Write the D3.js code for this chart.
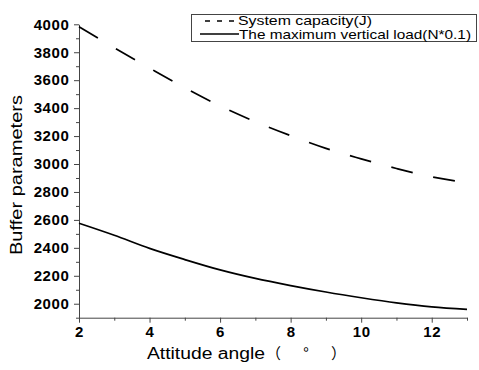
<!DOCTYPE html>
<html>
<head>
<meta charset="utf-8">
<script src="https://cdn.jsdelivr.net/npm/d3@7"></script>
<style>
  html, body { margin: 0; padding: 0; background: #fff; }
  svg text { font-family: Arial, "Liberation Sans", "Noto Sans CJK SC", sans-serif; fill: #000; }
</style>
</head>
<body>
<svg id="chart" width="479" height="370"></svg>
<script>
const angles = [2, 3, 4, 5, 6, 7, 8, 9, 10, 11, 12, 13];
const systemCapacity = [3983, 3832, 3687, 3546, 3416, 3303, 3203, 3112, 3037, 2968, 2908, 2867];
const maxVerticalLoad = [2576, 2490, 2396, 2316, 2242, 2181, 2130, 2084, 2043, 2006, 1977, 1959];
const xMajorTicks = [2, 4, 6, 8, 10, 12];
const xMinorTicks = [3, 5, 7, 9, 11, 13];
const yMajorTicks = [2000, 2200, 2400, 2600, 2800, 3000, 3200, 3400, 3600, 3800, 4000];
const yMinorTicks = [1900, 2100, 2300, 2500, 2700, 2900, 3100, 3300, 3500, 3700, 3900];
const seriesNames = ["System capacity(J)", "The maximum vertical load(N*0.1)"];
const xTitleMain = "Attitude angle";
const xTitleUnit = "（°）";
const yTitle = "Buffer parameters";

const svg = d3.select("#chart");
const x = d3.scaleLinear().domain([2, 13]).range([79, 467]);
const y = d3.scaleLinear().domain([1900, 4000]).range([317.7, 24.3]);
const axisColor = "#444";

// Minor ticks
const gxMinor = svg.append("g").attr("transform", "translate(0,317.7)")
  .call(d3.axisBottom(x).tickValues(xMinorTicks).tickSize(3).tickFormat(""));
const gyMinor = svg.append("g").attr("transform", "translate(79,0)")
  .call(d3.axisLeft(y).tickValues(yMinorTicks).tickSize(3).tickFormat(""));
[gxMinor, gyMinor].forEach(g => { g.select(".domain").remove(); g.selectAll("line").attr("stroke", axisColor); });

// Major axes
const gx = svg.append("g").attr("transform", "translate(0,317.7)")
  .call(d3.axisBottom(x).tickValues(xMajorTicks).tickSize(5).tickSizeOuter(0).tickPadding(4).tickFormat(d3.format("d")));
const gy = svg.append("g").attr("transform", "translate(79,0)")
  .call(d3.axisLeft(y).tickValues(yMajorTicks).tickSize(5).tickSizeOuter(0).tickPadding(4).tickFormat(d3.format("d")));
[gx, gy].forEach(g => {
  g.select(".domain").attr("stroke", axisColor).attr("stroke-width", 1);
  g.selectAll("line").attr("stroke", axisColor);
  g.selectAll("text").attr("font-size", 15).attr("font-weight", "bold")
    .attr("letter-spacing", "0.6px")
    .attr("font-family", "Arial, 'Liberation Sans', sans-serif").attr("fill", "#111");
});
gy.selectAll("text").attr("dx", "-0.6px");

// Lines
const line = d3.line().x((d, i) => x(angles[i])).y(d => y(d)).curve(d3.curveMonotoneX);
svg.append("path").datum(systemCapacity).attr("d", line)
  .attr("fill", "none").attr("stroke", "#000").attr("stroke-width", 1.7)
  .attr("stroke-dasharray", "22,21");
svg.append("path").datum(maxVerticalLoad).attr("d", line)
  .attr("fill", "none").attr("stroke", "#000").attr("stroke-width", 1.7);

// Axis titles
const xt = svg.append("text").attr("x", 147).attr("y", 359).attr("font-size", 16);
xt.append("tspan").attr("textLength", 118).attr("lengthAdjust", "spacingAndGlyphs").text(xTitleMain);
xt.append("tspan").attr("x", 266).attr("textLength", 80).attr("lengthAdjust", "spacing")
  .attr("font-family", "'Noto Sans CJK SC', sans-serif").attr("font-size", 15).text(xTitleUnit);
svg.append("text").attr("transform", "translate(22,255) rotate(-90)")
  .attr("font-size", 16).attr("textLength", 160).attr("lengthAdjust", "spacingAndGlyphs").text(yTitle);

// Legend
const lg = svg.append("g");
lg.append("rect").attr("x", 191.5).attr("y", 14.5).attr("width", 285).attr("height", 27)
  .attr("fill", "#fff").attr("stroke", axisColor).attr("stroke-width", 1);
lg.append("line").attr("x1", 205).attr("x2", 236).attr("y1", 21).attr("y2", 21)
  .attr("stroke", "#000").attr("stroke-width", 1.6).attr("stroke-dasharray", "5,7");
lg.append("line").attr("x1", 200).attr("x2", 239).attr("y1", 34).attr("y2", 34)
  .attr("stroke", "#000").attr("stroke-width", 1.6);
lg.append("text").attr("x", 238).attr("y", 25).attr("font-size", 13)
  .attr("textLength", 134).attr("lengthAdjust", "spacingAndGlyphs").text(seriesNames[0]);
lg.append("text").attr("x", 239).attr("y", 38.5).attr("font-size", 13)
  .attr("textLength", 232).attr("lengthAdjust", "spacingAndGlyphs").text(seriesNames[1]);
</script>
</body>
</html>
